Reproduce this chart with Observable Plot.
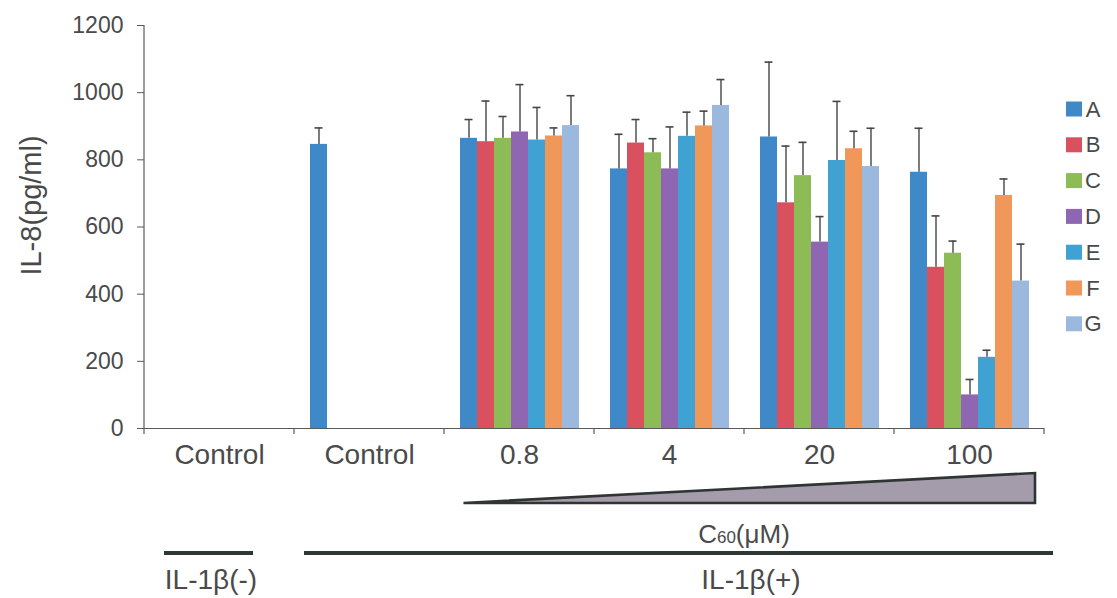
<!DOCTYPE html>
<html>
<head>
<meta charset="utf-8">
<script src="https://cdn.jsdelivr.net/npm/d3@7"></script>
<script src="https://cdn.jsdelivr.net/npm/@observablehq/plot@0.6"></script>
<style>
  html, body { margin: 0; padding: 0; background: #ffffff; }
  svg { font-family: "Liberation Sans", Arial, sans-serif; }
</style>
</head>
<body>
<div id="chart"></div>
<script>
// ---- data ----
const categoryKeys = ["ctrlNeg", "ctrlPos", "0.8", "4", "20", "100"];
const categoryLabels = ["Control", "Control", "0.8", "4", "20", "100"];
const series = ["A", "B", "C", "D", "E", "F", "G"];
const seriesColors = ["#3f89c8", "#d9505f", "#8dbb55", "#8f66b2", "#3fa2d2", "#f0975a", "#9bb9de"];

const ctrlNegValue = [0];          // IL-1β(-) control: no visible bar
const ctrlPosValue = [846];
const ctrlPosSD = [49];

const dose08 = [864, 854, 864, 883, 859, 871, 902];
const dose08SD = [56, 121, 65, 141, 97, 24, 89];
const dose4 = [773, 850, 821, 773, 870, 901, 962];
const dose4SD = [103, 70, 42, 125, 72, 44, 77];
const dose20 = [868, 672, 753, 555, 798, 833, 780];
const dose20SD = [223, 169, 99, 76, 176, 52, 114];
const dose100 = [763, 480, 522, 100, 212, 694, 439];
const dose100SD = [131, 153, 36, 46, 21, 49, 110];

const yTicks = [0, 200, 400, 600, 800, 1000, 1200];

// ---- tables ----
const barRows = [];
const errRows = [];
ctrlNegValue.forEach((v, i) => barRows.push({cat: "ctrlNeg", series: series[i], value: v}));
ctrlPosValue.forEach((v, i) => {
  barRows.push({cat: "ctrlPos", series: series[i], value: v});
  errRows.push({cat: "ctrlPos", series: series[i], value: v, sd: ctrlPosSD[i]});
});
[["0.8", dose08, dose08SD], ["4", dose4, dose4SD], ["20", dose20, dose20SD], ["100", dose100, dose100SD]]
  .forEach(([cat, vals, sds]) => vals.forEach((v, i) => {
    barRows.push({cat, series: series[i], value: v});
    errRows.push({cat, series: series[i], value: v, sd: sds[i]});
  }));

const labelOf = new Map(categoryKeys.map((k, i) => [k, categoryLabels[i]]));
const textColor = "#4a4a4a";
const axisColor = "#5a5a5a";

const plot = Plot.plot({
  width: 1117,
  height: 598,
  marginLeft: 144,
  marginRight: 73,
  marginTop: 25,
  marginBottom: 170,
  style: {fontFamily: "Liberation Sans, Arial, sans-serif", color: textColor, background: "transparent"},
  fx: {domain: categoryKeys, padding: 0, label: null},
  x: {domain: series, paddingInner: 0, paddingOuter: 0.74, axis: null},
  y: {domain: [0, 1200], label: null},
  color: {domain: series, range: seriesColors},
  marks: [
    Plot.barY(barRows, {fx: "cat", x: "series", y: "value", fill: "series", inset: 0}),
    Plot.ruleX(errRows, {fx: "cat", x: "series", y1: "value", y2: d => d.value + d.sd, stroke: "#454545", strokeWidth: 1.4}),
    Plot.tickY(errRows, {fx: "cat", x: "series", y: d => d.value + d.sd, stroke: "#454545", strokeWidth: 1.6, insetLeft: 4.5, insetRight: 4.5}),
    Plot.ruleY([0], {stroke: axisColor, strokeWidth: 1.2}),
    Plot.axisY({ticks: yTicks, tickFormat: d => String(d), tickSize: 7, tickPadding: 14, fontSize: 23, label: null, stroke: axisColor, fill: textColor}),
    Plot.axisFx({anchor: "bottom", tickSize: 0, tickPadding: 16, fontSize: 28, label: null, tickFormat: d => labelOf.get(d), fill: textColor})
  ]
});

document.getElementById("chart").appendChild(plot);

// ---- decorations positioned from Plot's own scales ----
const fx = plot.scale("fx");
const ys = plot.scale("y");
const bw = fx.bandwidth;
const fxL = k => fx.apply(k);
const y0 = ys.apply(0), yTop = ys.apply(1200);
const left = fxL(categoryKeys[0]);
const right = fxL(categoryKeys[categoryKeys.length - 1]) + bw;
const svg = d3.select(plot);
const g = svg.append("g");

// y axis line
g.append("line").attr("x1", left).attr("x2", left).attr("y1", yTop).attr("y2", y0)
  .attr("stroke", axisColor).attr("stroke-width", 1.2);
// boundary ticks on x axis
categoryKeys.map(fxL).concat([right]).forEach(x => {
  g.append("line").attr("x1", x).attr("x2", x).attr("y1", y0).attr("y2", y0 + 6)
    .attr("stroke", axisColor).attr("stroke-width", 1.2);
});
// y label
g.append("text")
  .attr("transform", `translate(${left - 113},${(y0 + yTop) / 2 - 21}) rotate(-90)`)
  .attr("text-anchor", "middle").attr("dominant-baseline", "central")
  .attr("font-size", 29).attr("fill", textColor).text("IL-8(pg/ml)");

// legend
series.forEach((s, i) => {
  const cy = yTop + 84 + i * 35.8;
  g.append("rect").attr("x", right + 22).attr("y", cy - 7.5).attr("width", 16).attr("height", 15)
    .attr("fill", seriesColors[i]);
  g.append("text").attr("x", right + 49).attr("y", cy).attr("dominant-baseline", "central")
    .attr("font-size", 22).attr("fill", textColor).text(s);
});

// concentration wedge
const wx1 = fxL("0.8") + 0.13 * bw, wx2 = fxL("100") + bw - 9;
g.append("path")
  .attr("d", `M${wx1},${y0 + 75} L${wx2},${y0 + 75} L${wx2},${y0 + 45} Z`)
  .attr("fill", "#a59cab").attr("stroke", "#2f3533").attr("stroke-width", 2.6).attr("stroke-linejoin", "miter");
const c60 = g.append("text").attr("x", fxL("20")).attr("y", y0 + 115).attr("text-anchor", "middle")
  .attr("font-size", 26).attr("fill", textColor);
c60.append("tspan").text("C");
c60.append("tspan").attr("font-size", 17).text("60");
c60.append("tspan").text("(μM)");

// IL-1β lines
g.append("line").attr("x1", left + 20).attr("x2", left + 109).attr("y1", y0 + 125).attr("y2", y0 + 125)
  .attr("stroke", "#2f3835").attr("stroke-width", 4);
g.append("line").attr("x1", fxL("ctrlPos") + 10).attr("x2", right + 9).attr("y1", y0 + 125).attr("y2", y0 + 125)
  .attr("stroke", "#2f3835").attr("stroke-width", 4);
g.append("text").attr("x", left + 67).attr("y", y0 + 161).attr("text-anchor", "middle")
  .attr("font-size", 28).attr("fill", textColor).text("IL-1β(-)");
g.append("text").attr("x", fxL("20") + 7).attr("y", y0 + 161).attr("text-anchor", "middle")
  .attr("font-size", 28).attr("fill", textColor).text("IL-1β(+)");
</script>
</body>
</html>
